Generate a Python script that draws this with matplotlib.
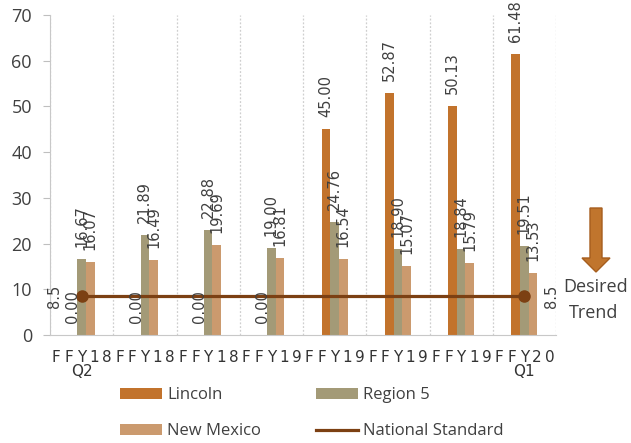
import matplotlib
matplotlib.use("Agg")
from matplotlib import pyplot as plt
from matplotlib.patches import FancyArrow
from matplotlib.lines import Line2D
import numpy as np

categories = ["FFY18 Q2", "FFY18 Q3", "FFY18 Q4", "FFY19 Q1",
              "FFY19 Q2", "FFY19 Q3", "FFY19 Q4", "FFY20 Q1"]
lincoln = [0.00, 0.00, 0.00, 0.00, 45.00, 52.87, 50.13, 61.48]
region5 = [16.67, 21.89, 22.88, 19.00, 24.76, 18.90, 18.84, 19.51]
new_mexico = [16.07, 16.49, 19.69, 16.81, 16.54, 15.07, 15.79, 13.53]
national_standard = [8.5] * len(categories)

c_lincoln = "#C2732C"
c_region = "#A39A77"
c_nm = "#CB9A6E"
c_line = "#7C4013"
txt = "#404040"
sans = ["Open Sans", "DejaVu Sans"]

fig = plt.figure(figsize=(6.31, 4.43), dpi=100)
ax = fig.add_axes([50 / 631, 1 - 335 / 443, 506 / 631, 320 / 443])

x = np.arange(len(categories))
w = 0.137
bars = []
for off, vals, col in [(-w, lincoln, c_lincoln), (0, region5, c_region), (w, new_mexico, c_nm)]:
    b = ax.bar(x + off, vals, w, color=col, zorder=2)
    bars.append(b)
    for xi, v in zip(x + off, vals):
        ax.annotate(f"{v:.2f}", (xi, v), xytext=(0, 8.6), textcoords="offset points",
                    rotation=90, ha="center", va="bottom", fontsize=10.5,
                    color=txt, family="DejaVu Sans", zorder=4)

ax.plot(x, national_standard, color=c_line, lw=2.3, marker="o", markersize=8,
        markevery=[0, len(x) - 1], zorder=3)
ax.annotate(f"{national_standard[0]}", (x[0], national_standard[0]), xytext=(-19.4, 0),
            textcoords="offset points", rotation=90, ha="center", va="center",
            fontsize=10.5, color=txt)
ax.annotate(f"{national_standard[-1]}", (x[-1], national_standard[-1]), xytext=(19.4, 0),
            textcoords="offset points", rotation=90, ha="center", va="center",
            fontsize=10.5, color=txt)

ax.set_xlim(-0.5, len(x) - 0.5)
ax.set_ylim(0, 70)
ax.set_yticks(range(0, 71, 10))
ax.set_xticks(x)
ax.set_xticklabels([])
ax.set_xticks(np.arange(-0.5, len(x)), minor=True)
ax.tick_params(axis="x", which="both", length=0)
ax.tick_params(axis="y", length=5, color="#BFBFBF", labelcolor=txt, labelsize=13, pad=8)
for lab in ax.get_yticklabels():
    lab.set_family(sans)
ax.grid(axis="x", which="minor", color="#CFCFCF", linestyle=(0, (1.5, 1.5)), lw=0.9)
ax.spines[["top", "right"]].set_visible(False)
ax.spines["left"].set_color("#C8C8C8")
ax.spines["bottom"].set_color("#C8C8C8")

# category labels squeezed like the original
xt = ax.get_xaxis_transform()
for i, cat in enumerate(categories):
    year, q = cat.split()
    for k, ch in enumerate(year):
        ax.text(i + (k - 2) / 5, -22 / 320, ch, transform=xt, ha="center", va="center",
                fontsize=11, color="#333333", family="DejaVu Sans", clip_on=False)
    if i in (0, len(categories) - 1):
        ax.text(i, -37 / 320, q, transform=xt, ha="center", va="center",
                fontsize=11, color="#333333", family="DejaVu Sans", clip_on=False)

# desired trend arrow
fig.patches.append(FancyArrow(596 / 631, 1 - 208 / 443, 0, -64 / 443, width=12 / 631,
                              head_width=28 / 631, head_length=14 / 443,
                              length_includes_head=True, transform=fig.transFigure,
                              facecolor="#C0752D", edgecolor="#A65E1E", lw=1))
fig.text(596 / 631, 1 - 287 / 443, "Desired", ha="center", va="center",
         fontsize=13, color=txt, family=sans)
fig.text(594 / 631, 1 - 313 / 443, "Trend", ha="center", va="center",
         fontsize=13, color=txt, family=sans)

handles = [bars[0], bars[2], bars[1], Line2D([], [], color=c_line, lw=2.3)]
labels = ["Lincoln", "New Mexico", "Region 5", "National Standard"]
fig.legend(handles, labels, ncol=2, loc="upper left",
           bbox_to_anchor=(112 / 631, 1 - 379 / 443), frameon=False, borderpad=0,
           handlelength=2.5, handleheight=0.66, handletextpad=0.3,
           labelspacing=1.2, columnspacing=3.3, labelcolor=txt,
           prop={"family": sans, "size": 12})

plt.savefig("out.png", dpi=100)
